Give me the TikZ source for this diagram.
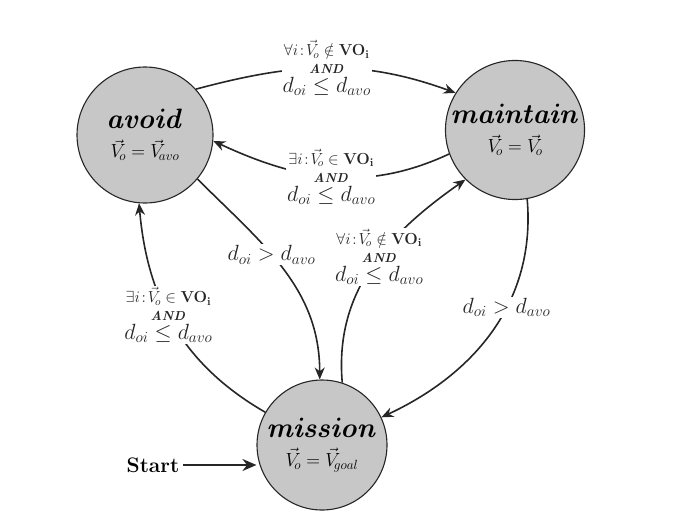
\documentclass[tikz,border=0pt]{standalone}
\usepackage{fix-cm}
\usepackage{amsmath,amssymb,bm}
\usetikzlibrary{arrows.meta}
\begin{document}
\begin{tikzpicture}[x=1pt,y=-1pt,
  st/.style={circle,draw=black!85,line width=1.1pt,fill=black!22,minimum size=136pt,inner sep=0pt,align=center},
  ed/.style={line width=1.6pt,black!85,-{Stealth[length=12pt,width=10pt]}},
  lb/.style={fill=white,inner sep=1pt,align=center,font=\fontsize{16}{17}\selectfont}]
\useasboundingbox (0,0) rectangle (692,525);
\newcommand\nm[1]{{\fontsize{28}{28}\selectfont$\bm{\mathit{#1}}$}}
\newcommand\cnd[2]{$#1 i\!:\!\vec V_{\!o}#2\mathbf{VO}_{\mathbf{i}}$\\[1pt]{\fontsize{13}{13}\selectfont$\bm{\mathit{AND}}$}\\[2pt]{\fontsize{22}{22}\selectfont$d_{oi}\le d_{avo}$}}
\node[st] (a) at (145,135) {\nm{avoid}\\[10pt]{\fontsize{19}{19}\selectfont$\vec V_{\!o}=\vec V_{\!avo}$}};
\node[st] (m) at (515,130) {\nm{maintain}\\[10pt]{\fontsize{19}{19}\selectfont$\vec V_{\!o}=\vec V_{\!o}$}};
\node[st,minimum size=130pt] (g) at (322,445) {\nm{mission}\\[10pt]{\fontsize{19}{19}\selectfont$\vec V_{\!o}=\vec V_{\!goal}$}};
\node[font=\fontsize{21}{21}\selectfont\bfseries] (s) at (153,465) {Start};
\draw[line width=2.2pt,black!85,-{Stealth[length=14pt,width=12pt]}] (s.east) -- (g.west |- s.east);
\draw[ed] (a.42) to[out=15,in=160] node[lb,pos=0.5]{\cnd{\forall}{\notin}} (m.148);
\draw[ed] (m.200) to[out=205,in=-25] node[lb,pos=0.5]{\cnd{\exists}{\in}} (a.-5);
\draw[ed] (a.-40) to[out=-45,in=90] node[lb,pos=0.42]{\fontsize{22}{22}\selectfont$d_{oi}>d_{avo}$} (g.92);
\draw[ed] (g.150) to[out=150,in=-85] node[lb,pos=0.55]{\cnd{\exists}{\in}} (a.-95);
\draw[ed] (g.72) to[out=95,in=-145] node[lb,pos=0.55]{\cnd{\forall}{\notin}} (m.-135);
\draw[ed] (m.-80) to[out=-85,in=25] node[lb,pos=0.4]{\fontsize{22}{22}\selectfont$d_{oi}>d_{avo}$} (g.25);
\end{tikzpicture}
\end{document}
